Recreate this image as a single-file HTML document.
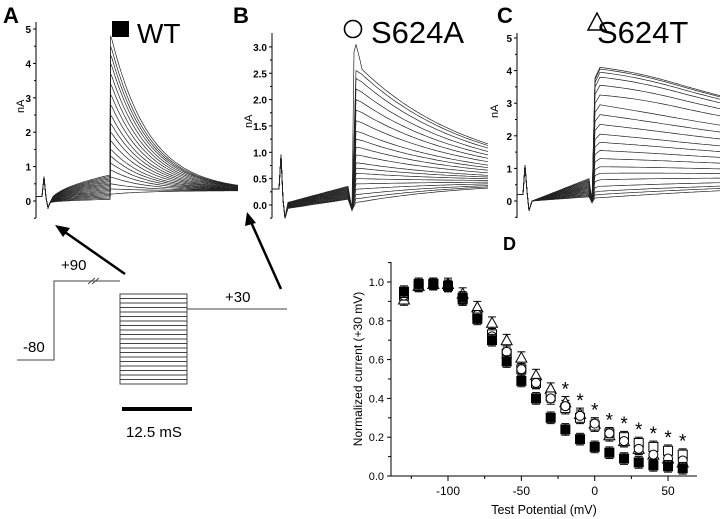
<!DOCTYPE html>
<html><head><meta charset="utf-8"><style>
html,body{margin:0;padding:0;background:#fff}
svg{display:block;font-family:"Liberation Sans",Arial,sans-serif}
</style></head><body>
<svg id="fig" width="720" height="519" viewBox="0 0 720 519" xmlns="http://www.w3.org/2000/svg">
<g id="static">
<text x="3" y="23" font-size="22" font-weight="bold">A</text>
<rect x="112" y="21" width="17" height="16" fill="#000"/>
<text x="137" y="43" font-size="28">WT</text>
<text x="233" y="23" font-size="22" font-weight="bold">B</text>
<circle cx="353" cy="29" r="8.5" fill="none" stroke="#000" stroke-width="1.6"/>
<text x="371" y="43" font-size="31">S624A</text>
<text x="497" y="23" font-size="22" font-weight="bold">C</text>
<polygon points="588,30 597,13 606,30" fill="none" stroke="#000" stroke-width="1.4"/>
<text x="597" y="43" font-size="31">S624T</text>
<text x="503" y="250" font-size="18" font-weight="bold">D</text>
<g stroke="#444" stroke-width="1" fill="none">
<polyline points="17,360 54,360 54,281 120,281"/>
<line x1="88" y1="284" x2="95" y2="278"/><line x1="92" y1="284" x2="99" y2="278"/>
<rect x="120" y="294" width="67" height="90"/>
<line x1="187" y1="309" x2="287" y2="309"/>
<g id="protlines"></g>
</g>
<text x="23" y="352" font-size="15">-80</text>
<text x="61" y="270" font-size="15">+90</text>
<text x="225" y="302" font-size="15">+30</text>
<line x1="122" y1="409" x2="192" y2="409" stroke="#000" stroke-width="4"/>
<text x="126" y="437" font-size="15">12.5 mS</text>
<g>
<line x1="125" y1="274" x2="62" y2="230" stroke="#000" stroke-width="2.5"/>
<polygon points="55,225 70,228 63,237" fill="#000"/>
</g>
<g>
<line x1="281" y1="289" x2="251" y2="222" stroke="#000" stroke-width="2.5"/>
<polygon points="247,212 256,223 245,226" fill="#000"/>
</g>
</g>
<g id="dyn"></g>
</svg>
<script>
// Panel D data
const potentials=[-130,-120,-110,-100,-90,-80,-70,-60,-50,-40,-30,-20,-10,0,10,20,30,40,50,60];
const wtVals=[.95,.99,.99,.98,.92,.81,.70,.59,.49,.40,.30,.24,.19,.15,.12,.09,.07,.055,.05,.04];
const s624aVals=[.93,.99,.99,.98,.91,.83,.72,.64,.55,.48,.40,.36,.31,.27,.22,.18,.14,.11,.09,.08];
const sqOpenVals=[.93,.98,.99,.98,.91,.83,.73,.63,.55,.48,.41,.35,.30,.26,.22,.20,.17,.15,.13,.11];
const s624tVals=[.91,.98,.99,.99,.94,.87,.79,.70,.61,.52,.45,.38,.32,.27,.21,.18,.14,.11,.09,.07];
const starPotentials=[-20,-10,0,10,20,30,40,50,60];
const yTicksD=[0,0.2,0.4,0.6,0.8,1.0];
const xTicksD=[-100,-50,0,50];
// Trace panel amplitudes (nA)
const peaksA=[4.8,4.5,4.25,4.0,3.7,3.4,3.1,2.8,2.5,2.25,2.0,1.75,1.5,1.3,1.1,0.9,0.7,0.5,0.35,0.2];
const startsB=[2.65,2.55,2.4,2.2,2.0,1.8,1.6,1.4,1.25,1.1,0.95,0.8,0.7,0.6,0.5,0.4,0.3,0.2,0.12,0.05];
const startsC=[4.1,4.05,3.95,3.8,3.55,3.25,2.95,2.65,2.35,2.05,1.8,1.55,1.3,1.05,0.85,0.65,0.45,0.3,0.2,0.1];
const ticksA=[0,1,2,3,4,5];
const ticksB=[0,0.5,1,1.5,2,2.5,3];
const ticksC=[0,1,2,3,4,5];

const NS="http://www.w3.org/2000/svg";
const dyn=document.getElementById('dyn');
function mk(tag,attrs,parent){const e=document.createElementNS(NS,tag);for(const k in attrs)e.setAttribute(k,attrs[k]);(parent||dyn).appendChild(e);return e;}
const pl=document.getElementById('protlines');
for(let i=1;i<20;i++){const y=294+i*90/20;const l=mk('line',{x1:120,y1:y,x2:187,y2:y},pl);

}

function tracePanel(name,ax,x1,y0,ppu,ticks,fmt,yTop,yBot,curves){
  const g=mk('g',{});
  
  
  const ys=v=>y0-v*ppu;
  const axis=mk('line',{x1:ax,y1:yTop,x2:ax,y2:yBot,stroke:'#000','stroke-width':1},g);
  
  
  ticks.forEach((t,i)=>{
    mk('line',{x1:ax-3,x2:ax,y1:ys(t),y2:ys(t),stroke:'#000'},g);
    if(i<ticks.length-1){const m=(t+ticks[i+1])/2;mk('line',{x1:ax-2,x2:ax,y1:ys(m),y2:ys(m),stroke:'#000'},g);}
    const tx=mk('text',{x:ax-5,y:ys(t)+4,'font-size':10,'font-weight':'bold','text-anchor':'end'},g);
    tx.textContent=fmt(t);
    
    
  });
  const below=ys(0)+(ys(0)-ys(ticks[1]))/2;
  mk('line',{x1:ax-2,x2:ax,y1:below,y2:below,stroke:'#000'},g);
  curves.forEach(pts=>{
    const p=mk('polyline',{points:pts.map(q=>q[0].toFixed(1)+','+ys(q[1]).toFixed(1)).join(' '),fill:'none',stroke:'#222','stroke-width':0.7},g);
    
    
  });
  return {g,ys};
}
(function(){
  const curves=peaksA.map((pk,i)=>{
    const pts=[[36,0.13],[42,0.13],[44,0.7],[46,0.1],[48,-0.2]];
    const ramp=0.75-i*0.037;
    for(let x=50;x<=109;x+=3)pts.push([x,-0.05+(ramp+0.05)*Math.sqrt((x-50)/59)]);
    pts.push([110,ramp]);pts.push([110.5,pk]);
    for(let x=112;x<=240;x+=3)pts.push([x,0.3+(pk-0.3)*Math.exp(-(x-111)/38)]);
    return pts;});
  const p=tracePanel('panel-a-traces',36,240,201,34.4,ticksA,t=>t,22,218,curves);
  const t=mk('text',{x:0,y:0,'font-size':11,transform:'translate(24,113) rotate(-90)'},p.g);t.textContent='nA';
  
})();
(function(){
  const curves=startsB.map((s,i)=>{
    const pts=[[272,0.3],[279,0.3],[281,0.95],[283,0.1],[285,-0.25]];
    const ramp=0.35-i*0.014;
    for(let x=288;x<=350;x+=3)pts.push([x,(0.0-i*0.006)+(ramp+i*0.006)*((x-288)/62)*0.9+0.05]);
    pts.push([352,-0.1]);
    if(i==0){pts.push([354,2.9]);pts.push([356,3.05]);pts.push([360,2.75]);}
    else pts.push([356,s]);
    for(let x=362;x<=488;x+=3)pts.push([x,0.45+(s-0.45)*Math.exp(-(x-358)/115)]);
    return pts;});
  const p=tracePanel('panel-b-traces',272,488,205,52.7,ticksB,t=>t.toFixed(1),33,218,curves);
  const t=mk('text',{x:0,y:0,'font-size':11,transform:'translate(252,128) rotate(-90)'},p.g);t.textContent='nA';
  
})();
(function(){
  const curves=startsC.map((s,i)=>{
    const pts=[[517,0.2],[523,0.2],[525,1.1],[527,0.3],[529,-0.3]];
    const ramp=0.7-i*0.03;
    for(let x=532;x<=590;x+=3)pts.push([x,ramp*((x-532)/58)]);
    pts.push([592,-0.05]);pts.push([595,s*0.92]);
    for(let x=600;x<=720;x+=3){const hump=(s>3?0.3:0.1)*(s/4)*Math.sin(Math.min(1,(x-600)/80)*Math.PI/2);
      pts.push([x,0.8+(s-0.8)*Math.exp(-(x-600)/330)+hump*Math.exp(-(x-600)/150)]);}
    return pts;});
  const p=tracePanel('panel-c-traces',517,720,201,32.6,ticksC,t=>t,33,218,curves);
  const t=mk('text',{x:0,y:0,'font-size':11,transform:'translate(498,118) rotate(-90)'},p.g);t.textContent='nA';
  
})();
(function(){
  const g=mk('g',{});
  
  
  const xs=v=>594.7+v*1.467, ys=v=>476-v*194;
  mk('line',{x1:391,y1:262,x2:391,y2:476,stroke:'#000'},g);
  mk('line',{x1:391,y1:476,x2:697,y2:476,stroke:'#000'},g);
  yTicksD.forEach(t=>{mk('line',{x1:387,x2:391,y1:ys(t),y2:ys(t),stroke:'#000'},g);
    mk('line',{x1:388,x2:391,y1:ys(t+0.1),y2:ys(t+0.1),stroke:'#000'},g);
    const tx=mk('text',{x:384,y:ys(t)+4,'font-size':11,'text-anchor':'end'},g);tx.textContent=t.toFixed(1);
    });
  for(let v=-125;v<=75;v+=25){if(xs(v)>697)continue;mk('line',{x1:xs(v),x2:xs(v),y1:476,y2:xTicksD.includes(v)?481:479,stroke:'#000'},g);}
  xTicksD.forEach(t=>{const tx=mk('text',{x:xs(t),y:495,'font-size':12,'text-anchor':'middle'},g);tx.textContent=t;
    });
  const xt=mk('text',{x:544,y:514,'font-size':12.5,'text-anchor':'middle'},g);xt.textContent='Test Potential (mV)';
  
  const yt=mk('text',{x:0,y:0,'font-size':12,'text-anchor':'middle',transform:'translate(362,369) rotate(-90)'},g);yt.textContent='Normalized current (+30 mV)';
  
  function err(x,v){const y1=ys(v+0.03),y2=ys(v-0.03);mk('line',{x1:x,x2:x,y1:y1,y2:y2,stroke:'#000'},g);
    mk('line',{x1:x-4,x2:x+4,y1:y1,y2:y1,stroke:'#000'},g);mk('line',{x1:x-4,x2:x+4,y1:y2,y2:y2,stroke:'#000'},g);}
  potentials.forEach((p,i)=>{
    const x=xs(p);
    err(x,s624tVals[i]);err(x,sqOpenVals[i]);err(x,s624aVals[i]);
    const tri=mk('polygon',{points:`${x-5.5},${ys(s624tVals[i])+4.5} ${x},${ys(s624tVals[i])-5.5} ${x+5.5},${ys(s624tVals[i])+4.5}`,fill:'#fff',stroke:'#000'},g);
    
    const sq=mk('rect',{x:x-4.5,y:ys(sqOpenVals[i])-4.5,width:9,height:9,fill:'#fff',stroke:'#000'},g);
    
    const c=mk('circle',{cx:x,cy:ys(s624aVals[i]),r:4.5,fill:'#fff',stroke:'#000'},g);
    
    err(x,wtVals[i]);
    const w=mk('rect',{x:x-5,y:ys(wtVals[i])-5,width:10,height:10,fill:'#000'},g);
    
  });
  starPotentials.forEach(p=>{const i=potentials.indexOf(p);
    const top=Math.max(wtVals[i],s624aVals[i],sqOpenVals[i],s624tVals[i]);
    const s=mk('text',{x:xs(p),y:ys(top)-7,'font-size':19,'text-anchor':'middle'},g);s.textContent='*';
    });
})();
</script>
</body></html>
